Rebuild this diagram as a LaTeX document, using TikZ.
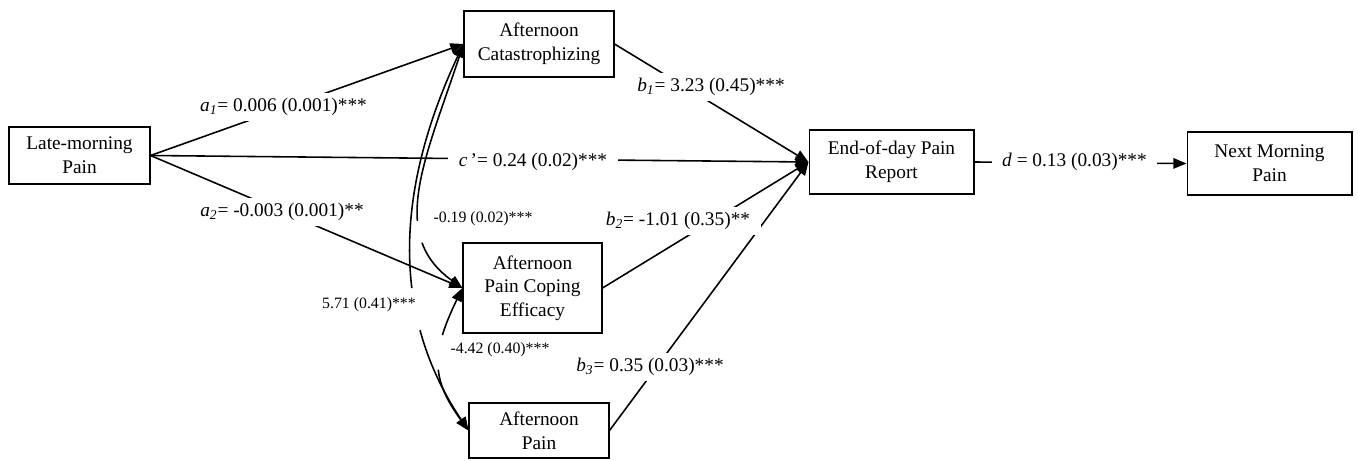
\documentclass[tikz,border=0pt]{standalone}
\usepackage{fontspec}
\setmainfont{Liberation Serif}
\usetikzlibrary{arrows.meta}
\begin{document}
\begin{tikzpicture}[x=0.02cm, y=-0.02cm,
	box/.style={draw, line width=0.6pt, align=center, inner sep=0pt, font=\fontsize{11}{13.5}\selectfont},
	link/.style={line width=0.9pt},
	coef/.style={fill=white, inner xsep=6pt, inner ysep=3pt, font=\fontsize{11}{13}\selectfont},
	cov/.style={fill=white, inner sep=1.5pt, font=\fontsize{9}{11}\selectfont},
	>={Triangle[length=7.5pt, width=6pt]}]
	\useasboundingbox (0,0) rectangle (1358,460);
	% variables
	\node[box, minimum width=2.82cm, minimum height=1.14cm] (lmp) at (79.5,155.5) {Late-morning\\Pain};
	\node[box, minimum width=3.0cm, minimum height=1.32cm] (cat) at (539,44) {Afternoon\\Catastrophizing};
	\node[box, minimum width=2.78cm, minimum height=1.8cm] (coping) at (532.5,288) {Afternoon\\Pain Coping\\Efficacy};
	\node[box, minimum width=2.8cm, minimum height=1.1cm] (ap) at (539,430.5) {Afternoon\\Pain};
	\node[box, minimum width=3.3cm, minimum height=1.28cm] (eod) at (891.5,162) {End-of-day Pain\\Report};
	\node[box, minimum width=3.3cm, minimum height=1.26cm] (nmp) at (1269.5,163.5) {Next Morning\\Pain};
	% paths from late-morning pain
	\foreach \target in {cat, coping, eod}
	{
		\draw[link, ->] (lmp.east) -- (\target.west);
	}
	% paths into end-of-day report
	\foreach \source in {cat, coping, ap}
	{
		\draw[link, ->] (\source.east) -- (eod.west);
	}
	\draw[link, ->] (eod.east) -- (nmp.west);
	% covariances between afternoon variables
	\draw[link, <->, dash pattern=on 136.7pt off 24.4pt on 300pt off 10pt] (cat.west) .. controls (402,175) and (384,305) .. (ap.west);
	\draw[link, <->, dash pattern=on 97.4pt off 12.7pt on 300pt off 10pt] (cat.west) .. controls (425,160) and (388,235) .. (coping.west);
	\draw[link, <->, dash pattern=on 21.9pt off 19.9pt on 300pt off 10pt] (coping.west) .. controls (430,355) and (432,380) .. (ap.west);
	% coefficients
	\node[coef] (a1) at (283.5,107) {\textit{a\textsubscript{1}}= 0.006 (0.001)***};
	\node[coef] (a2) at (282,212) {\textit{a\textsubscript{2}}= -0.003 (0.001)**};
	\node[coef] (cprime) at (533,162) {\textit{c}\,’= 0.24 (0.02)***};
	\node[coef] (b1) at (711,87) {\textit{b\textsubscript{1}}= 3.23 (0.45)***};
	\node[coef] (b2) at (678,221) {\textit{b\textsubscript{2}}= -1.01 (0.35)**};
	\node[coef] (b3) at (650,367) {\textit{b\textsubscript{3}}= 0.35 (0.03)***};
	\node[coef] (d) at (1074.5,162) {\textit{d} = 0.13 (0.03)***};
	\node[cov] (r1) at (483,219) {-0.19 (0.02)***};
	\node[cov] (r2) at (369,305) {5.71 (0.41)***};
	\node[cov] (r3) at (500,350) {-4.42 (0.40)***};
\end{tikzpicture}
\end{document}
